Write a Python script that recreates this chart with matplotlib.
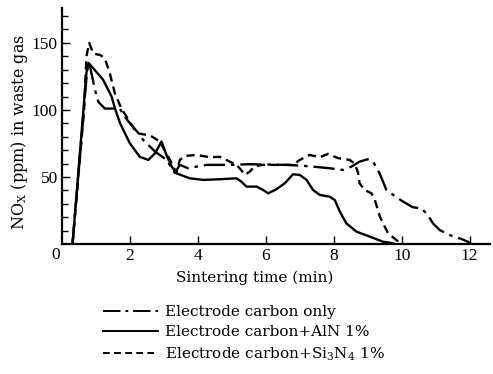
import matplotlib
matplotlib.use("Agg")
import matplotlib.pyplot as plt
from matplotlib.lines import Line2D

plt.rcParams['font.family'] = ['Liberation Serif', 'DejaVu Serif']
plt.rcParams['mathtext.fontset'] = 'dejavuserif'

# Electrode carbon only (dash-dot)
t_carbon = [0.31, 0.74, 0.80, 0.87, 0.97, 1.07, 1.26, 1.7, 1.85, 2.0, 2.24, 2.39, 2.74,
            3.08, 3.32, 3.47, 3.71, 3.96, 4.26, 4.94, 5.5, 6.6, 7.0, 7.39, 7.88, 8.27,
            8.52, 8.76, 9.0, 9.16, 9.35, 9.55, 9.75, 10.04, 10.33, 10.58, 10.77, 10.92,
            11.12, 11.41, 11.71, 11.95, 12.05]
y_carbon = [0, 130, 135, 127, 115, 106, 101, 101, 95, 90, 83, 77.6, 68.9,
            62.7, 53, 59, 56.5, 57.7, 59, 59, 59.5, 59, 58.5, 57.7, 56.5, 55.2,
            57.7, 61.4, 63.2, 61.4, 52.7, 40.3, 36.6, 31.6, 27.4, 26.6, 21.6, 15.4,
            10.4, 6.7, 4.2, 1.7, 0]

# Electrode carbon + AlN 1% (solid)
t_aln = [0.31, 0.72, 0.78, 0.92, 1.21, 1.46, 1.56, 1.71, 2.0, 2.29, 2.54, 2.74, 2.93,
         3.08, 3.23, 3.37, 3.76, 4.16, 4.65, 5.14, 5.28, 5.43, 5.73, 5.92, 6.07, 6.31,
         6.56, 6.8, 7.0, 7.2, 7.39, 7.59, 7.88, 8.03, 8.18, 8.37, 8.67, 9.06, 9.45,
         9.65, 9.8]
y_aln = [0, 128, 135, 131, 122.5, 110, 101, 90, 75, 65, 62.7, 67.7, 76.4,
         66, 57.7, 52.7, 49, 47.8, 48.3, 49, 46.5, 42.8, 42.8, 40.3, 37.8, 40.8,
         45.3, 52, 51.5, 47.8, 40.3, 36.6, 35.3, 32.8, 24.1, 15.4, 9.2, 5.5, 1.7,
         1, 0]

# Electrode carbon + Si3N4 1% (dashed)
t_si = [0.31, 0.65, 0.72, 0.80, 0.92, 1.12, 1.26, 1.41, 1.56, 1.75, 2.2, 2.59, 2.88,
        3.18, 3.37, 3.47, 3.62, 3.96, 4.35, 4.65, 4.94, 5.14, 5.28, 5.38, 5.53, 5.67,
        5.9, 6.41, 6.8, 7.0, 7.29, 7.59, 7.83, 8.13, 8.47, 8.62, 8.72, 8.76, 8.91,
        9.11, 9.21, 9.3, 9.35, 9.45, 9.6, 9.84, 10.0]
y_si = [0, 100, 140, 150, 142, 141, 138.6, 127, 112, 101, 82.6, 81, 76.4,
        62.7, 53, 62.7, 65.7, 66.4, 64.7, 65, 61.4, 59, 55, 51.5, 54, 58,
        59, 59, 59, 62.7, 66.4, 64.7, 67.2, 64, 62.7, 60, 52.7, 45.3, 40.3,
        37.8, 32.8, 25.4, 21, 15.4, 8, 3, 0]

x_ticks = [2, 4, 6, 8, 10, 12]
y_ticks = [50, 100, 150]
labels = ["Electrode carbon only", "Electrode carbon+AlN 1%",
          "Electrode carbon+Si$_3$N$_4$ 1%"]

fig = plt.figure(figsize=(4.93, 3.74), dpi=100)
W, H = 493, 374
ax = fig.add_axes([62 / W, 1 - 244 / H, 428 / W, 236 / H])

dashdot = (0, (9, 2.5, 1.5, 2.5))
dashed = (0, (3.5, 2.2))
ax.plot(t_carbon, y_carbon, color='black', lw=1.7, linestyle=dashdot)
ax.plot(t_aln, y_aln, color='black', lw=1.7, linestyle='-')
ax.plot(t_si, y_si, color='black', lw=1.7, linestyle=dashed)

ax.set_xlim(0, 12.6)
ax.set_ylim(0, 176)
ax.spines['top'].set_visible(False)
ax.spines['right'].set_visible(False)
for s in ('left', 'bottom'):
    ax.spines[s].set_linewidth(1.6)

ax.set_xticks(x_ticks)
ax.set_xticklabels([str(v) for v in x_ticks])
ax.set_yticks(y_ticks)
ax.set_yticklabels([str(v) for v in y_ticks])
ax.set_yticks([v for v in range(10, 171, 10) if v % 50 != 0], minor=True)
ax.tick_params(axis='both', which='major', direction='in', length=6, width=1.0,
               labelsize=12.5, pad=3)
ax.tick_params(axis='y', which='minor', direction='in', length=4, width=1.0)
ax.text(-0.2, -0.012, "0", transform=ax.get_xaxis_transform(), ha='center', va='top',
        fontsize=12.5)

ax.set_xlabel("Sintering time (min)", fontsize=11, family='DejaVu Serif')
ax.xaxis.set_label_coords((255 - 62) / 428, (244 - 271) / 236)
ax.set_ylabel(r"NO$_{\mathrm{X}}$ (ppm) in waste gas", fontsize=11.5,
              family='DejaVu Serif')
ax.yaxis.set_label_coords((30 - 62) / 428, (244 - 132) / 236)

handles = [Line2D([], [], color='black', lw=1.4, linestyle=dashdot),
           Line2D([], [], color='black', lw=1.4, linestyle='-'),
           Line2D([], [], color='black', lw=1.4, linestyle=dashed)]
fig.legend(handles, labels, loc='upper left', bbox_to_anchor=(103 / W, 1 - 305 / H),
           frameon=False, prop={'family': 'DejaVu Serif', 'size': 11},
           handlelength=3.6, handletextpad=0.45, labelspacing=0.4,
           borderpad=0, borderaxespad=0)

fig.savefig("out.png", dpi=100)
